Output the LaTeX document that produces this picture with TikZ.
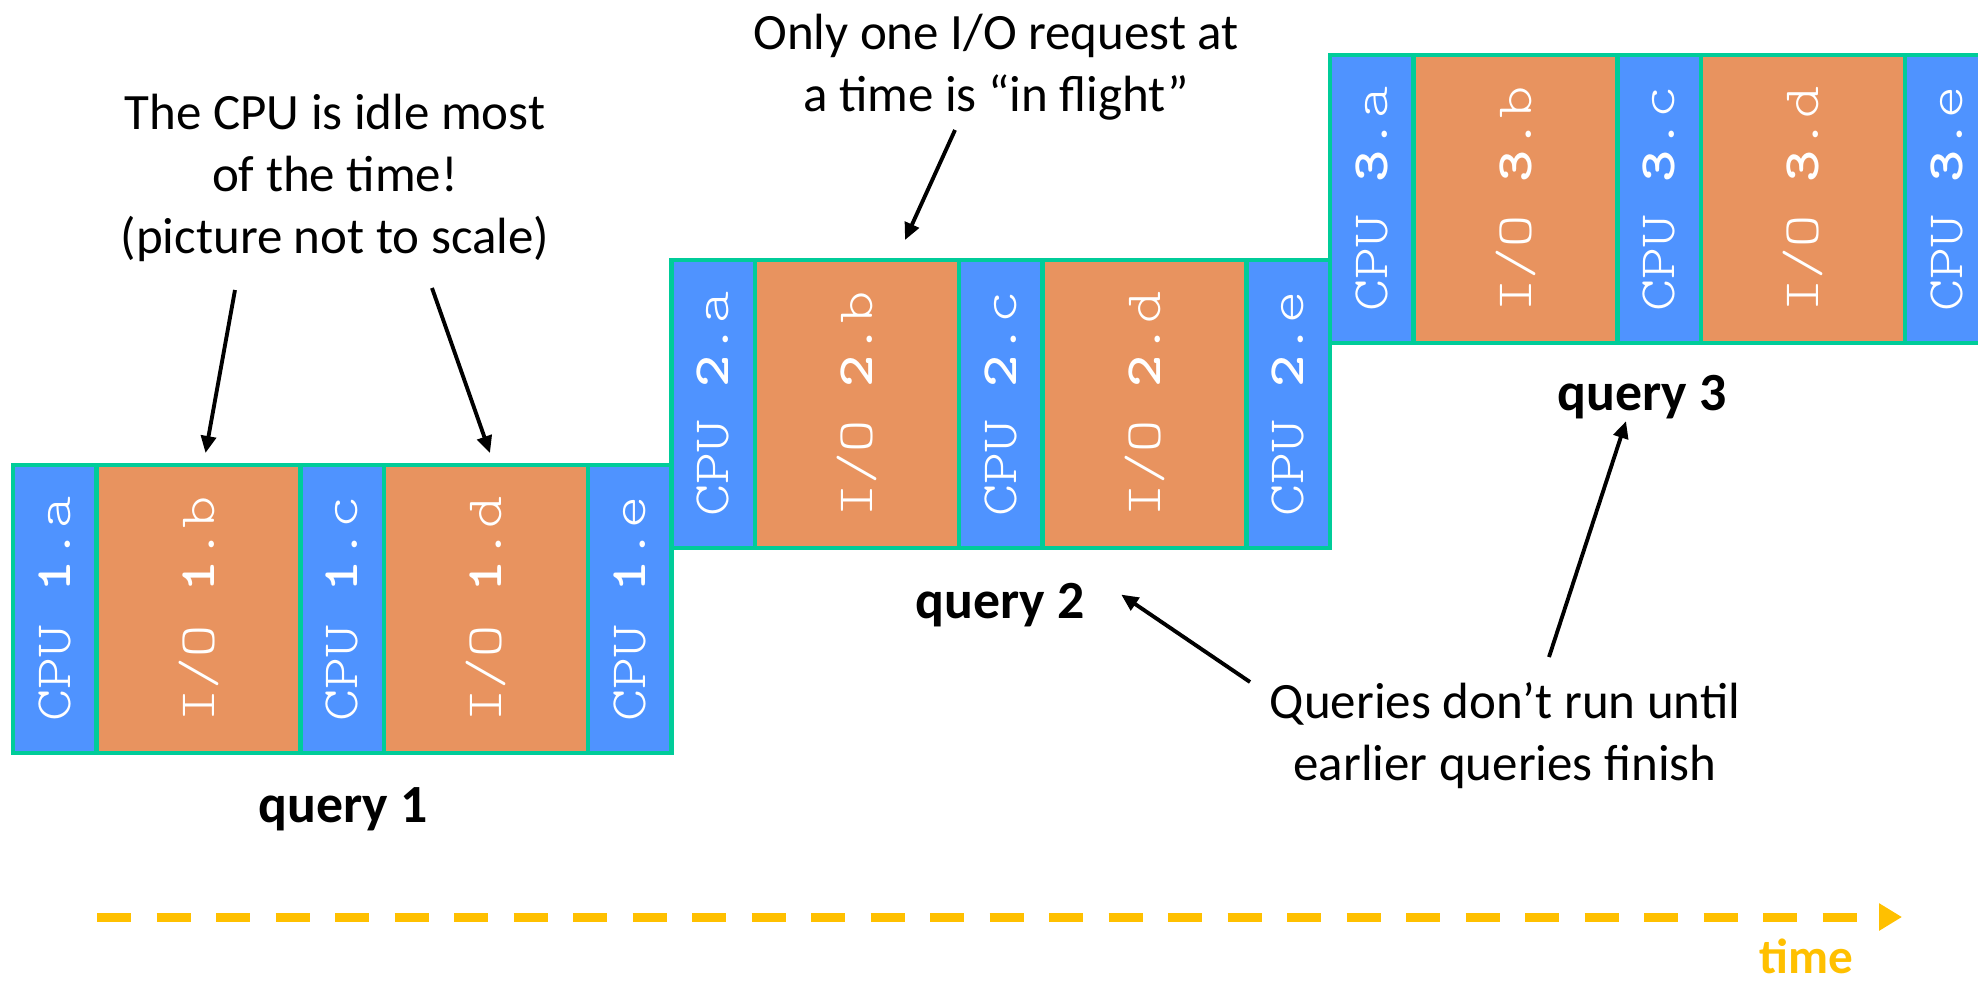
\documentclass[tikz,border=0pt]{standalone}
\usepackage{fontspec}
\setmainfont{Carlito}
\setmonofont{lmmonolt10-regular.otf}[BoldFont=lmmonolt10-bold.otf, FakeStretch=1.2]
\usepackage{graphicx}
\usetikzlibrary{positioning,arrows.meta}

\definecolor{qgreen}{HTML}{00CC99}
\definecolor{cpublue}{HTML}{4F93FF}
\definecolor{ioorange}{HTML}{E8935F}
\definecolor{timegold}{HTML}{FFC000}

\begin{document}
\begin{tikzpicture}[
    cell/.style={draw=qgreen, line width=1.4pt, minimum height=2.88cm,
        inner sep=0pt, outer sep=0pt, text=white,
        font=\ttfamily\fontsize{14.5}{16}\selectfont},
    cpu/.style={cell, fill=cpublue, minimum width=0.835cm},
    io/.style={cell, fill=ioorange, minimum width=2.04cm},
    note/.style={align=center, inner sep=0pt,
        font=\fontsize{14.5}{17.6}\selectfont},
    qlabel/.style={inner sep=0pt, anchor=base,
        font=\bfseries\fontsize{15.3}{18}\selectfont},
    pointer/.style={-{Triangle[length=0.17cm,width=0.15cm]}, line width=1.1pt},
    timeline/.style={draw=timegold, line width=0.09cm,
        dash pattern=on 0.34cm off 0.255cm,
        -{Triangle[length=0.23cm,width=0.26cm]}}
]
    % Moldura
    \useasboundingbox (0,0) rectangle (19.78,9.80);
    \clip (0,0) rectangle (19.78,9.80);

    % Blocos das queries
    \foreach \q/\qx/\qy in {1/0.13/2.27, 2/6.715/4.32, 3/13.30/6.37} {
        \node[cpu, anchor=south west] (q\q a) at (\qx,\qy) {\rotatebox{90}{CPU \textbf{\q}.a}};
        \node[io, right=0pt of q\q a] (q\q b) {\rotatebox{90}{I/O \textbf{\q}.b}};
        \node[cpu, right=0pt of q\q b] (q\q c) {\rotatebox{90}{CPU \textbf{\q}.c}};
        \node[io, right=0pt of q\q c] (q\q d) {\rotatebox{90}{I/O \textbf{\q}.d}};
        \node[cpu, right=0pt of q\q d] (q\q e) {\rotatebox{90}{CPU \textbf{\q}.e}};
    }

    % Nomes das queries
    \node[qlabel] (ql1) at (3.43,1.58) {query 1};
    \node[qlabel] (ql2) at (10.00,3.62) {query 2};
    \node[qlabel] (ql3) at (16.42,5.70) {query 3};

    % Notas
    \node[note] (idle) at (3.35,8.02) {The CPU is idle most\\of the time!\\(picture not to scale)};
    \node[note] (flight) at (9.96,9.13) {Only one I/O request at\\a time is “in flight”};
    \node[note] (order) at (15.05,2.44) {Queries don’t run until\\earlier queries finish};

    % Setas
    \coordinate (idleA) at (2.35,6.90);
    \coordinate (idleB) at (4.32,6.92);
    \coordinate (flightA) at (9.55,8.50);
    \coordinate (orderA) at (12.50,2.98);
    \coordinate (orderB) at (15.49,3.23);
    \draw[pointer] (idleA) -- ([xshift=0.07cm,yshift=0.12cm]q1b.north);
    \draw[pointer] (idleB) -- ([xshift=0.04cm,yshift=0.12cm]q1d.north);
    \draw[pointer] (flightA) -- ([xshift=0.48cm,yshift=0.20cm]q2b.north);
    \draw[pointer] (orderA) -- ([xshift=0.36cm,yshift=0.10cm]ql2.east);
    \draw[pointer] (orderB) -- ([xshift=-0.16cm,yshift=-0.02cm]ql3.south);

    % Eixo do tempo
    \coordinate (tstart) at (0.97,0.63);
    \coordinate (tend) at (19.02,0.63);
    \draw[timeline] (tstart) -- (tend);
    \node[qlabel, text=timegold, font=\bfseries\fontsize{14}{17}\selectfont] (tlabel) at (18.06,0.07) {time};
\end{tikzpicture}
\end{document}
